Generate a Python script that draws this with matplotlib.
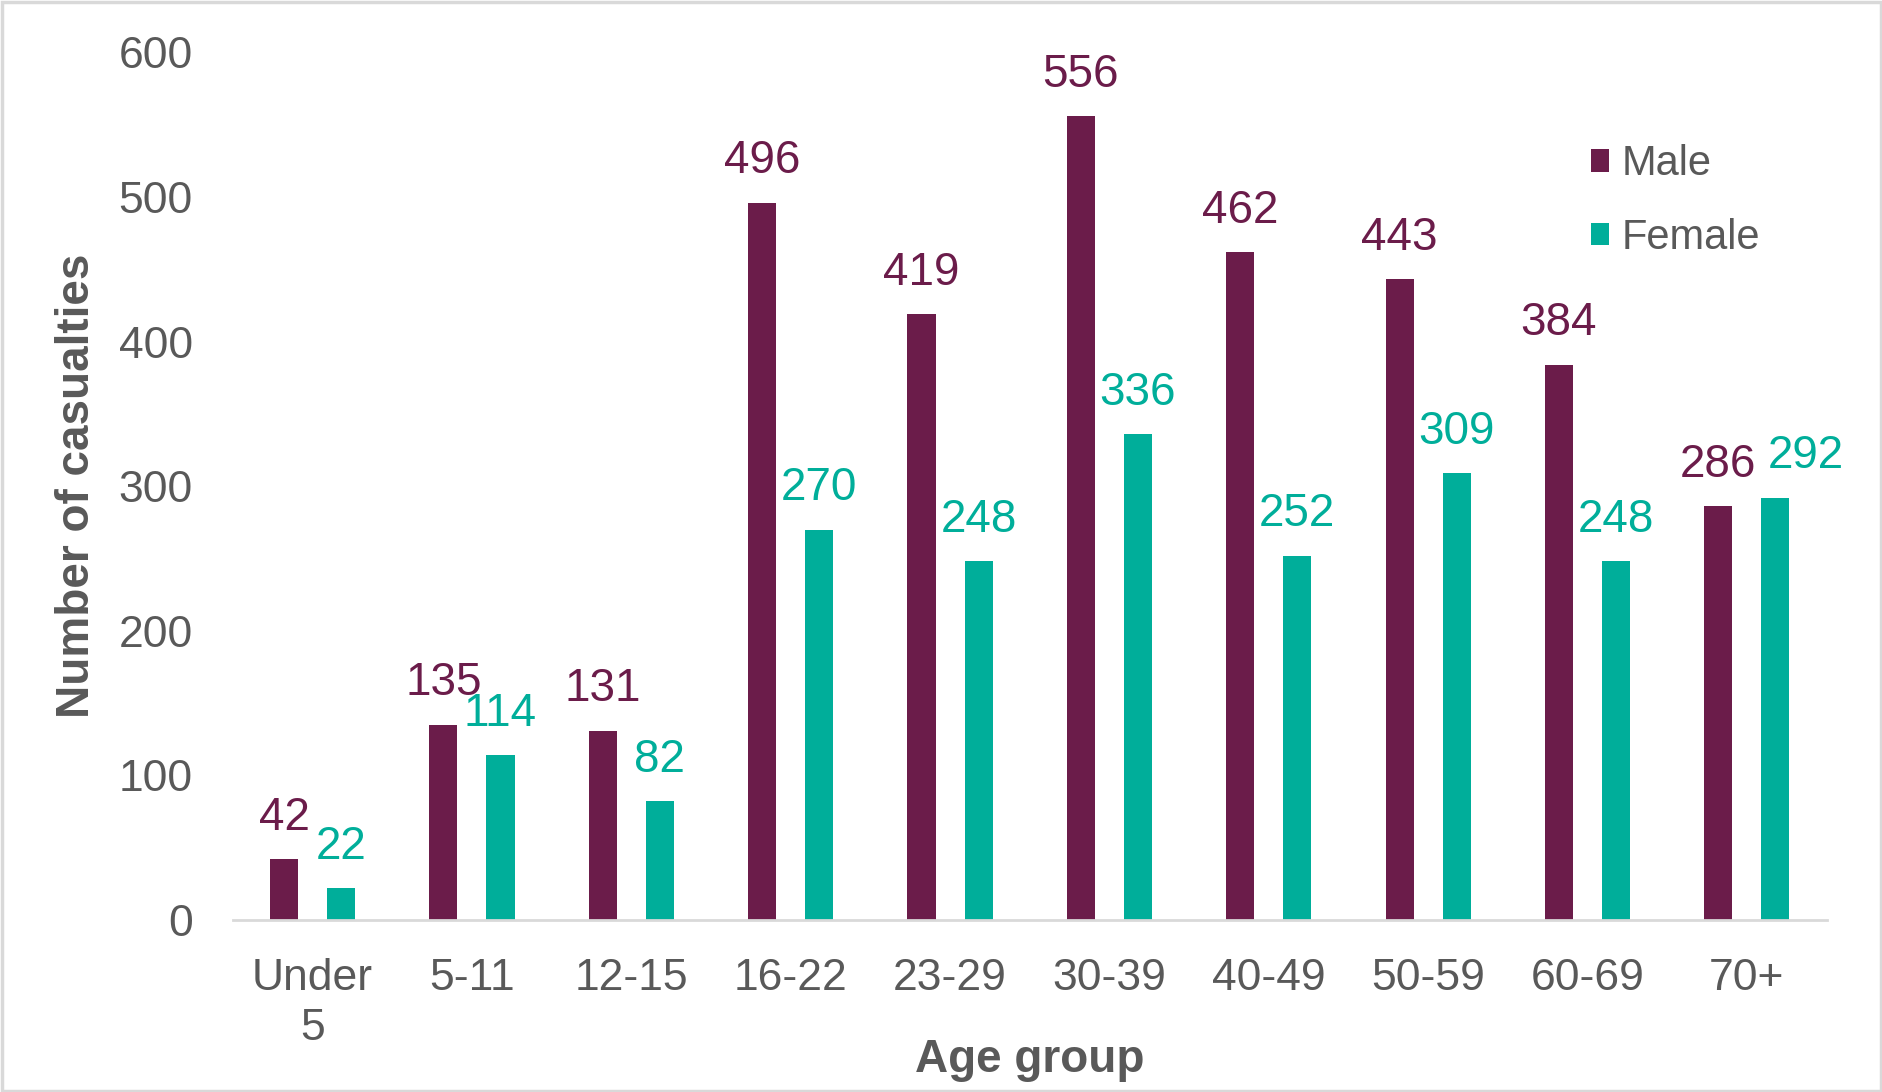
import numpy as np
import matplotlib.pyplot as plt
from matplotlib.patches import Rectangle

plt.rcParams['font.family'] = ['Liberation Sans', 'DejaVu Sans']

# data
age_groups = ['Under\n5', '5-11', '12-15', '16-22', '23-29', '30-39', '40-49', '50-59', '60-69', '70+']
male = [42, 135, 131, 496, 419, 556, 462, 443, 384, 286]
female = [22, 114, 82, 270, 248, 336, 252, 309, 248, 292]

male_col = '#6B1C4A'
female_col = '#00AE9A'
grey = '#595959'

fig = plt.figure(figsize=(18.83, 10.92), dpi=100)
ax = fig.add_axes([0.1237, 0.1575, 0.8463, 0.7945])

x = np.arange(len(age_groups))
w = 0.176
off = 0.179
b1 = ax.bar(x - off, male, w, color=male_col, label='Male')
b2 = ax.bar(x + off, female, w, color=female_col, label='Female')

# value labels above the bars (last female label nudged right like excel does)
for bars, col, last_dx in [(b1, male_col, 0), (b2, female_col, 22)]:
    for i, b in enumerate(bars):
        dx = last_dx if i == len(bars) - 1 else 0
        ax.annotate(str(int(b.get_height())), (b.get_x() + b.get_width() / 2, b.get_height()),
                    xytext=(dx, 14), textcoords='offset points', ha='center', va='bottom',
                    fontsize=33, color=col)

ax.set_xlim(-0.5, len(age_groups) - 0.5)
ax.set_ylim(0, 600)
ax.set_yticks(range(0, 601, 100))
ax.set_xticks(x)
ax.set_xticklabels(age_groups, linespacing=1.3)
ax.tick_params(axis='both', length=0, labelsize=32, colors=grey)
ax.tick_params(axis='x', pad=27)
ax.tick_params(axis='y', pad=29)

for s in ['top', 'right', 'left']:
    ax.spines[s].set_visible(False)
ax.spines['bottom'].set_color('#D9D9D9')
ax.spines['bottom'].set_linewidth(2)

ax.set_ylabel('Number of casualties', fontsize=33, fontweight='bold', color=grey, labelpad=14)
ax.set_xlabel('Age group', fontsize=33, fontweight='bold', color=grey, va='center')
ax.xaxis.set_label_coords(0.5, -0.161)

leg = ax.legend(loc='upper left', bbox_to_anchor=(0.852, 0.894), frameon=False, fontsize=30,
                labelcolor=grey, handlelength=0.45, handleheight=0.45, handletextpad=0.3,
                labelspacing=0.8, borderpad=0, borderaxespad=0)

# light grey frame around the whole chart
fig.patches.append(Rectangle((0.001, 0.001), 0.998, 0.997, transform=fig.transFigure,
                             fill=False, edgecolor='#D9D9D9', linewidth=2.5))

fig.savefig('out.png', dpi=100)
